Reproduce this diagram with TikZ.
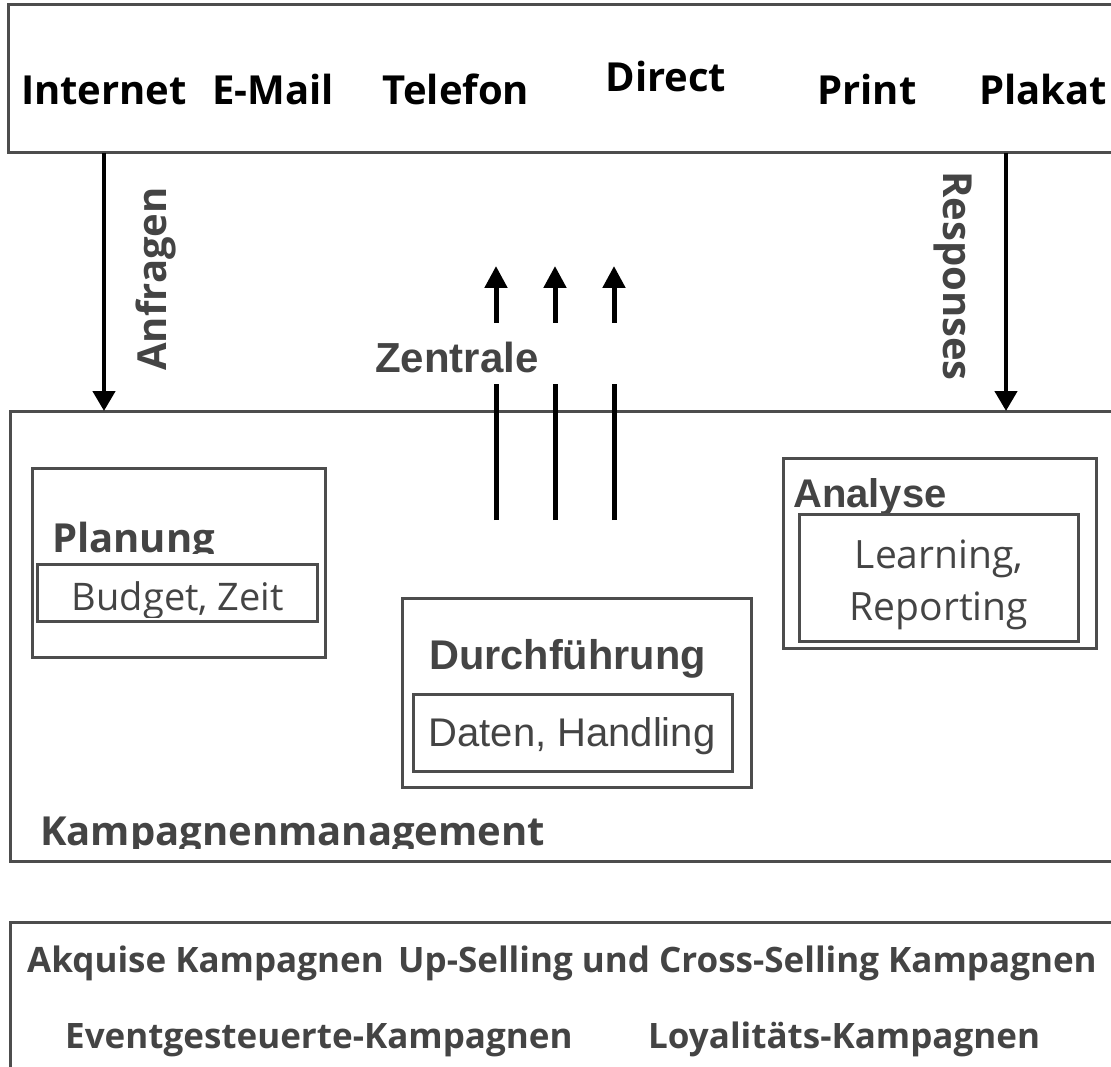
\documentclass[tikz,border=0pt]{standalone}
\usepackage{fontspec}
\setmainfont{Open Sans}
\newfontfamily\arialfont{Liberation Sans}
\usetikzlibrary{arrows.meta}
\definecolor{framegray}{HTML}{4D4D4D}
\definecolor{labelgray}{HTML}{444444}
\begin{document}
\begin{tikzpicture}[x=1pt,y=-1pt,
  frame/.style={draw=framegray,line width=3pt,anchor=north west,inner sep=0pt,outer sep=0pt},
  channel/.style={font=\fontsize{40}{48}\selectfont\bfseries,text=black,anchor=base,inner sep=0pt},
  flowlabel/.style={font=\fontsize{40}{48}\selectfont\bfseries,text=labelgray,inner sep=0pt},
  stagehead/.style={font=\arialfont\fontsize{41.5}{48}\selectfont\bfseries,text=labelgray,anchor=base west,inner sep=0pt},
  osanshead/.style={font=\fontsize{40}{48}\selectfont\bfseries,text=labelgray,anchor=base west,inner sep=0pt},
  detail/.style={font=\fontsize{38}{52}\selectfont,text=labelgray,inner sep=0pt,align=center},
  campaign/.style={font=\fontsize{35}{42}\selectfont\bfseries,text=labelgray,anchor=base west,inner sep=0pt},
  flow/.style={line width=4.5pt,draw=black,-{Triangle[length=20pt,width=22pt]}},
  feed/.style={line width=5pt,draw=black},
]
\useasboundingbox (0,0) rectangle (1111,1067);
\clip (0,0) rectangle (1111,1067);

% --- channel bar ---
\node[frame,minimum width=1120pt,minimum height=148pt] (channels) at (8,5) {};
\node[channel] (inet)  at (104,105) {Internet};
\node[channel] (email) at (273,105) {E-Mail};
\node[channel] (tel)   at (456,105) {Telefon};
\node[channel] (direct) at (666,92) {Direct};
\node[channel] (print) at (867,105) {Print};
\node[channel] (plakat) at (1043,105) {Plakat};

% --- campaign management ---
\node[frame,minimum width=1120pt,minimum height=450pt] (mgmt) at (10,411) {};
\begin{scope}
  \clip (10,780) rectangle (700,848);
  \node[osanshead] (mgmtlabel) at (40,845) {Kampagnenmanagement};
\end{scope}

% Planung
\node[frame,minimum width=293pt,minimum height=189pt] (plan) at (32,468) {};
\begin{scope}
  \clip (34,480) rectangle (320,553);
  \node[osanshead] (planlabel) at (52,552) {Planung};
\end{scope}
\node[frame,minimum width=280pt,minimum height=57pt] (planin) at (37,564) {};
\begin{scope}
  \clip (38,565) rectangle (316,617);
  \node[detail,anchor=base] (plantext) at (178,610) {Budget, Zeit};
\end{scope}

% Durchführung
\node[frame,minimum width=349pt,minimum height=189pt] (exec) at (402,598) {};
\node[stagehead] (execlabel) at (429,669) {Durchführung};
\node[frame,minimum width=319pt,minimum height=77pt] (execin) at (413,694) {};
\node[font=\arialfont\fontsize{40}{48}\selectfont,text=labelgray,anchor=base,inner sep=0pt]
  (exectext) at (572,746) {Daten, Handling};

% Analyse
\node[frame,minimum width=313pt,minimum height=190pt] (ana) at (783,458) {};
\node[stagehead,font=\arialfont\fontsize{40}{48}\selectfont\bfseries] (analabel) at (793,507) {Analyse};
\node[frame,minimum width=279pt,minimum height=127pt] (anain) at (799,514) {};
\begin{scope}
  \clip (800,515) rectangle (1077,632);
  \node[detail,font=\fontsize{39}{52}\selectfont,anchor=base] (anatext1) at (939,568) {Learning,};
  \node[detail,font=\fontsize{39}{52}\selectfont,anchor=base] (anatext2) at (939,620) {Reporting};
\end{scope}

% --- campaign types ---
\node[frame,minimum width=1120pt,minimum height=200pt] (types) at (10,922) {};
\node[campaign] (acq)   at (27,972)  {Akquise Kampagnen};
\node[campaign] (upsell) at (398,972) {Up-Selling und Cross-Selling Kampagnen};
\node[campaign] (event) at (65,1048) {Eventgesteuerte-Kampagnen};
\node[campaign] (loyal) at (648,1048) {Loyalitäts-Kampagnen};

% --- flows between channels and management ---
\coordinate (respx) at (1006,0);
\draw[flow] (inet |- channels.south) -- (inet |- mgmt.north);
\draw[flow] (respx |- channels.south) -- (respx |- mgmt.north);
\node[flowlabel,rotate=90] (anfragen) at (156,279) {Anfragen};
\node[flowlabel,rotate=-90] (responses) at (953,276) {Responses};

% Zentrale with three upward feeds
\node[font=\arialfont\fontsize{42}{48}\selectfont\bfseries,text=labelgray,anchor=base west,inner sep=0pt]
  (zentrale) at (375,372) {Zentrale};
\foreach \i/\x in {1/496,2/555,3/614}{
  \coordinate (lo\i) at (\x,520);
  \coordinate (mi\i) at (\x,384);
  \coordinate (up\i) at (\x,323);
  \coordinate (tip\i) at (\x,266);
  \draw[feed] (lo\i) -- (mi\i);
  \draw[feed,-{Triangle[length=22pt,width=22pt]}] (up\i) -- (tip\i);
}
\end{tikzpicture}
\end{document}
